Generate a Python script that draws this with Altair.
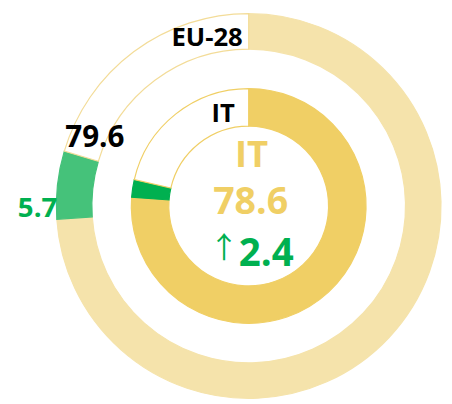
import altair as alt
import pandas as pd

# data
rings = ["EU-28", "IT"]
totals = [79.6, 78.6]
changes = [5.7, 2.4]

fill_colors = ["#f5e3ab", "#f0cf65"]
green_colors = ["#45c27a", "#00b050"]
stroke_colors = ["#f3dc98", "#f0cf65"]
radii = [(195, 159), (119, 81)]

W, H = 436, 388
CX, CY = 244, 194

theta_scale = alt.Scale(domain=[0, 100], range=[0, 6.283185307])

layers = []
for i, name in enumerate(rings):
    t, c = totals[i], changes[i]
    df = pd.DataFrame({
        "ring": [name] * 3,
        "part": ["base", "change", "rest"],
        "start": [0, t - c, t],
        "end": [t - c, t, 100],
        "color": [fill_colors[i], green_colors[i], "#ffffff"],
        "stroke": [fill_colors[i], green_colors[i], stroke_colors[i]],
    })
    ro, ri = radii[i]
    arc = alt.Chart(df).mark_arc(radius=ro, radius2=ri, strokeWidth=1.2).encode(
        theta=alt.Theta("start:Q", stack=None, scale=theta_scale),
        theta2="end:Q",
        color=alt.Color("color:N", scale=None),
        stroke=alt.Stroke("stroke:N", scale=None),
        x=alt.value(CX),
        y=alt.value(CY),
    )
    layers.append(arc)

font = "Open Sans"

def label(text, x, y, size, color, align="center", weight="bold", fnt=font):
    d = pd.DataFrame({"t": [text]})
    return alt.Chart(d).mark_text(
        font=fnt, fontSize=size, fontWeight=weight, color=color,
        align=align, baseline="alphabetic"
    ).encode(text="t:N", x=alt.value(x), y=alt.value(y))

layers += [
    label(rings[0], 238, 32, 26, "#000000", align="right"),
    label(rings[1], 230, 109, 26, "#000000", align="right"),
    label(f"{totals[0]:.1f}", 88, 134, 30, "#000000"),
    label(f"{changes[0]:.1f}", 50, 205, 28, "#00b050", align="right"),
    label(rings[1], 247, 154, 37, "#f0cf65"),
    label(f"{totals[1]:.1f}", 246, 202, 38, "#f0cf65"),
    label("\u2191", 219, 247, 30, "#00b050", weight="normal", fnt="Noto Sans CJK SC"),
    label(f"{changes[1]:.1f}", 234, 255, 39, "#00b050", align="left"),
]

chart = alt.layer(*layers).properties(width=W, height=H, padding=0).configure_view(strokeWidth=0)

chart.save("out.html", embed_options={"renderer": "svg", "actions": False})
